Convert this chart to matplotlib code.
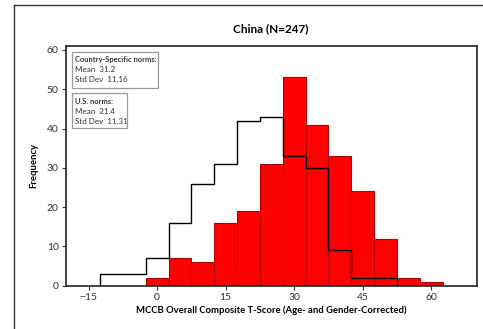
import matplotlib
matplotlib.use("Agg")
import matplotlib.pyplot as plt
import numpy as np
from matplotlib.lines import Line2D
from matplotlib.patches import Rectangle

plt.rcParams['font.family'] = ['Lato', 'DejaVu Sans']

# Country-specific norms (red filled histogram), bins centered on multiples of 5
cs_centers = [0, 5, 10, 15, 20, 25, 30, 35, 40, 45, 50, 55, 60]
cs_counts = [2, 7, 6, 16, 19, 31, 53, 41, 33, 24, 12, 2, 1]

# U.S. norms (black outline histogram)
us_centers = [-10, -5, 0, 5, 10, 15, 20, 25, 30, 35, 40, 45, 50]
us_counts = [3, 3, 7, 16, 26, 31, 42, 43, 33, 30, 9, 2, 2]

xticks = [-15, 0, 15, 30, 45, 60]
yticks = [0, 10, 20, 30, 40, 50, 60]
bin_width = 5

box1_lines = ['Country-Specific norms:', 'Mean  31.2', 'Std Dev  11.16']
box2_lines = ['U.S. norms:', 'Mean  21.4', 'Std Dev  11.31']

fig = plt.figure(figsize=(4.83, 3.29), dpi=100)
ax = fig.add_axes([0.136, 0.1316, 0.8516, 0.7284])

ax.bar(cs_centers, cs_counts, width=bin_width, color='#ff0000',
       edgecolor='#b00000', linewidth=0.8, zorder=2)
us_edges = np.append(np.array(us_centers) - bin_width / 2, us_centers[-1] + bin_width / 2)
ax.stairs(us_counts, us_edges, baseline=0, color='black', linewidth=1.0, zorder=3)

ax.set_xlim(-20, 70)
ax.set_ylim(0, 61)
ax.set_xticks(xticks)
ax.set_yticks(yticks)
ax.tick_params(axis='both', direction='out', length=3, width=0.8, labelsize=7.5, pad=2,
               colors='#333333')
for s in ax.spines.values():
    s.set_linewidth(1.2)
    s.set_color('#222222')

ax.set_xlabel('MCCB Overall Composite T-Score (Age- and Gender-Corrected)',
              fontsize=6.8, fontweight='bold', labelpad=3)
ax.set_ylabel('Frequency', fontsize=6.8, fontweight='bold', labelpad=6)
fig.text(0.561, 0.913, 'China (N=247)', ha='center', va='center', fontsize=8.5,
         fontweight='bold')

# Stats boxes
def stat_box(x0, x1, ytop, ybot, lines, ys):
    ax.add_patch(Rectangle((x0, ybot), x1 - x0, ytop - ybot, transform=ax.transAxes,
                           facecolor='white', edgecolor='#999999', linewidth=0.9,
                           zorder=5))
    for i, (t, y) in enumerate(zip(lines, ys)):
        ax.text(0.0233, y, t, transform=ax.transAxes, ha='left', va='center',
                fontsize=5.4 if i == 0 else 5.8, color='#333333',
                fontweight='bold' if i == 0 else 'normal', zorder=6)

stat_box(0.0153, 0.2244, 0.975, 0.825, box1_lines, [0.9458, 0.904, 0.8623])
stat_box(0.0153, 0.149, 0.804, 0.658, box2_lines, [0.7705, 0.7276, 0.6871])

# Outer frame lines (left and top)
fig.add_artist(Line2D([14 / 483, 14 / 483], [0, 1 - 5 / 329], transform=fig.transFigure,
                      color='#333333', linewidth=1.0))
fig.add_artist(Line2D([14 / 483, 1], [1 - 5 / 329, 1 - 5 / 329], transform=fig.transFigure,
                      color='#333333', linewidth=1.0))

fig.savefig('out.png', dpi=100)
